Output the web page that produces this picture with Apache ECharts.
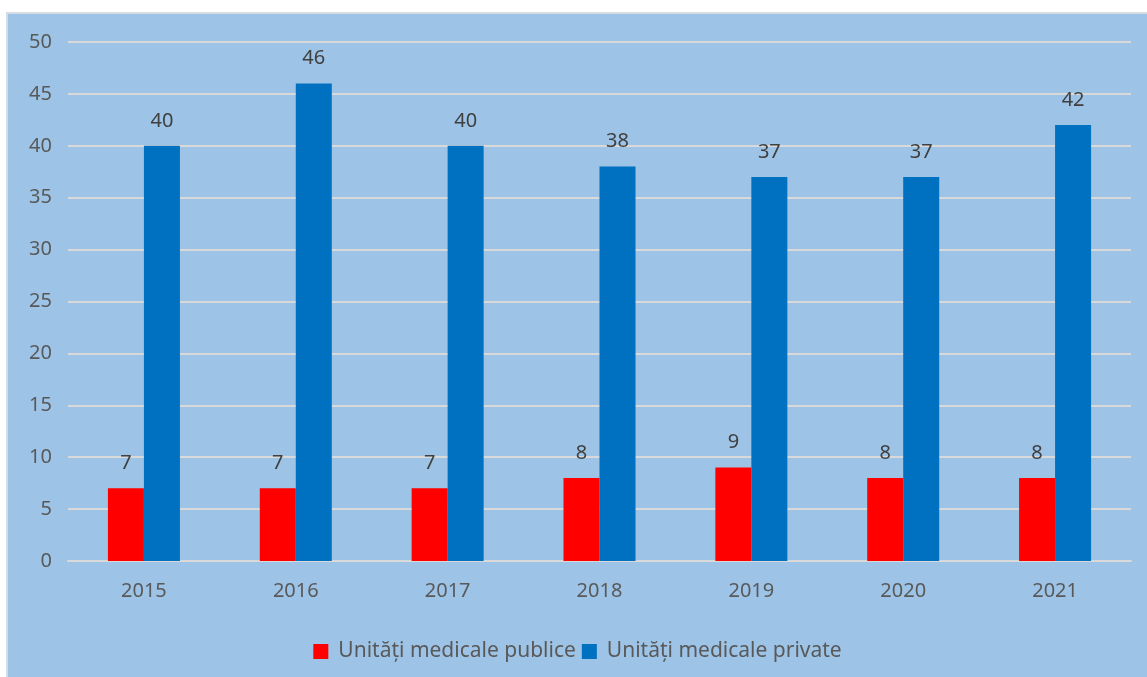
<!DOCTYPE html>
<html>
<head>
<meta charset="utf-8">
<script src="https://cdn.jsdelivr.net/npm/echarts@6/dist/echarts.min.js"></script>
<style>
html,body{margin:0;padding:0;background:#fff;width:1147px;height:677px;overflow:hidden;}
#panel{position:absolute;left:6px;top:12px;width:1141px;height:665px;background:#9DC3E6;border-left:2px solid #D6DCE4;border-top:2px solid #D6DCE4;box-sizing:border-box;}
#chart{position:absolute;left:0;top:0;width:1139px;height:663px;}
</style>
</head>
<body>
<div id="panel"><div id="chart"></div></div>
<script>
const categories = ['2015','2016','2017','2018','2019','2020','2021'];
const publice = [7,7,7,8,9,8,8];
const private_ = [40,46,40,38,37,37,42];
const seriesNames = ['Unități medicale publice','Unități medicale private'];

const font = "'Noto Sans', 'Open Sans', sans-serif";
const chart = echarts.init(document.getElementById('chart'));
const lbl = {show:true, position:'top', distance:15, color:'#404040', fontSize:20, fontFamily:font};
chart.setOption({
  animation:false,
  backgroundColor:'transparent',
  grid:{left:60, right:16, top:28, bottom:116, containLabel:false},
  legend:{
    bottom:10, left:'center', itemWidth:15, itemHeight:15, itemGap:6, icon:'rect',
    textStyle:{color:'#595959', fontSize:21, fontFamily:font, padding:[0,0,0,5]},
    data:seriesNames
  },
  xAxis:{
    type:'category', data:categories,
    axisLine:{lineStyle:{color:'#D9D9D9', width:2}},
    axisTick:{show:false},
    axisLabel:{color:'#595959', fontSize:20, fontFamily:font, margin:20}
  },
  yAxis:{
    type:'value', min:0, max:50, interval:5,
    axisLine:{show:false}, axisTick:{show:false},
    splitLine:{lineStyle:{color:'#D9D9D9', width:2}},
    axisLabel:{color:'#595959', fontSize:20, fontFamily:font, margin:16}
  },
  series:[
    {name:seriesNames[0], type:'bar', data:publice, barWidth:36, barGap:'0%', itemStyle:{color:'#FF0000'}, label:lbl},
    {name:seriesNames[1], type:'bar', data:private_, barWidth:36, barGap:'0%', itemStyle:{color:'#0070C0'}, label:lbl}
  ]
});
</script>
</body>
</html>
